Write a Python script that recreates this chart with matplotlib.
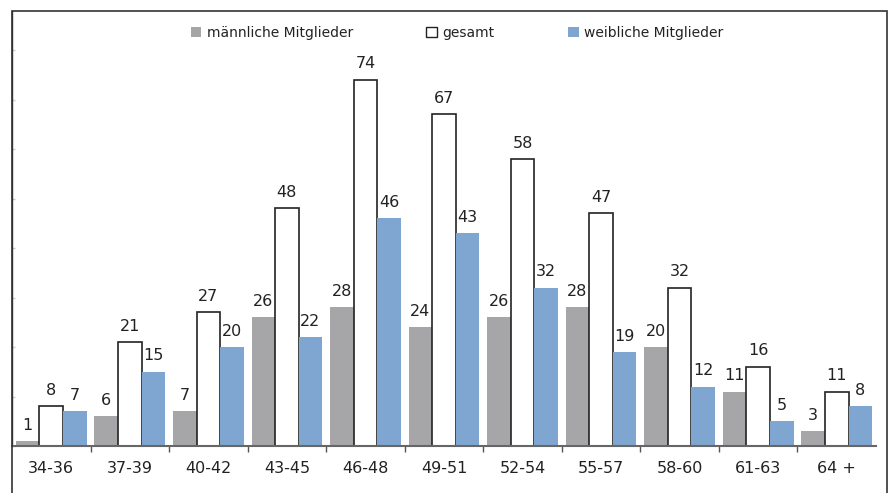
import matplotlib.pyplot as plt
import numpy as np
from matplotlib.patches import Rectangle, Patch

gruppen = ['34-36', '37-39', '40-42', '43-45', '46-48', '49-51',
           '52-54', '55-57', '58-60', '61-63', '64 +']
maennlich = [1, 6, 7, 26, 28, 24, 26, 28, 20, 11, 3]
gesamt = [8, 21, 27, 48, 74, 67, 58, 47, 32, 16, 11]
weiblich = [7, 15, 20, 22, 46, 43, 32, 19, 12, 5, 8]

grau = '#a6a6a9'
blau = '#7ea6d0'
dunkel = '#222222'

W, H = 892, 493
fig = plt.figure(figsize=(W/100., H/100.), dpi=100)
plt.rcParams['font.family'] = 'DejaVu Sans'

ax = fig.add_axes([12./W, (H-446.)/H, (876.-12.)/W, (446.-11.)/H])

x = np.arange(len(gruppen))
b = 0.3
r1 = ax.bar(x-b, maennlich, b, color=grau, edgecolor='none')
r2 = ax.bar(x, gesamt, b, color='white', edgecolor='#222222', linewidth=1.2)
r3 = ax.bar(x+b, weiblich, b, color=blau, edgecolor='none')

for rects, vals in [(r1, maennlich), (r2, gesamt), (r3, weiblich)]:
	for rc, v in zip(rects, vals):
		ax.annotate(str(v), xy=(rc.get_x()+rc.get_width()/2., v), xytext=(0, 6),
			textcoords='offset points', ha='center', va='bottom',
			fontsize=11.5, color=dunkel)

ax.set_xlim(-0.5, len(gruppen)-0.5)
ax.set_ylim(0, 87.9)

ax.set_xticks(x)
ax.set_xticklabels(gruppen, fontsize=11.5, color=dunkel)
ax.set_xticks(np.arange(len(gruppen)-1)+0.5, minor=True)
ax.tick_params(axis='x', which='major', length=0, pad=11)
ax.tick_params(axis='x', which='minor', length=4, direction='out', color='#555555', width=1)

ax.set_yticks(np.arange(0, 90, 10))
ax.set_yticklabels([])
ax.tick_params(axis='y', length=2, direction='in', color='#cccccc', width=1)

for s in ['top', 'right']:
	ax.spines[s].set_visible(False)
ax.spines['bottom'].set_color('#666666')
ax.spines['bottom'].set_linewidth(1.5)
ax.spines['left'].set_color('#333333')
ax.spines['left'].set_linewidth(1.0)

# rahmen um das ganze diagramm
fig.patches.append(Rectangle((12./W, -0.05), (887.-12.)/W, (H-11.)/H+0.05,
	transform=fig.transFigure, fill=False, edgecolor='#333333', linewidth=1.2))

handles = [Patch(facecolor=grau, edgecolor='none'),
	Patch(facecolor='white', edgecolor='#222222', linewidth=1.0),
	Patch(facecolor=blau, edgecolor='none')]
fig.legend(handles, ['männliche Mitglieder', 'gesamt', 'weibliche Mitglieder'],
	loc='center', bbox_to_anchor=(457./W, (H-33.)/H), ncol=3, frameon=False,
	fontsize=10, handlelength=0.75, handleheight=0.75, handletextpad=0.4,
	columnspacing=5.3, labelcolor=dunkel)

plt.savefig('out.png', dpi=100, facecolor='w')
